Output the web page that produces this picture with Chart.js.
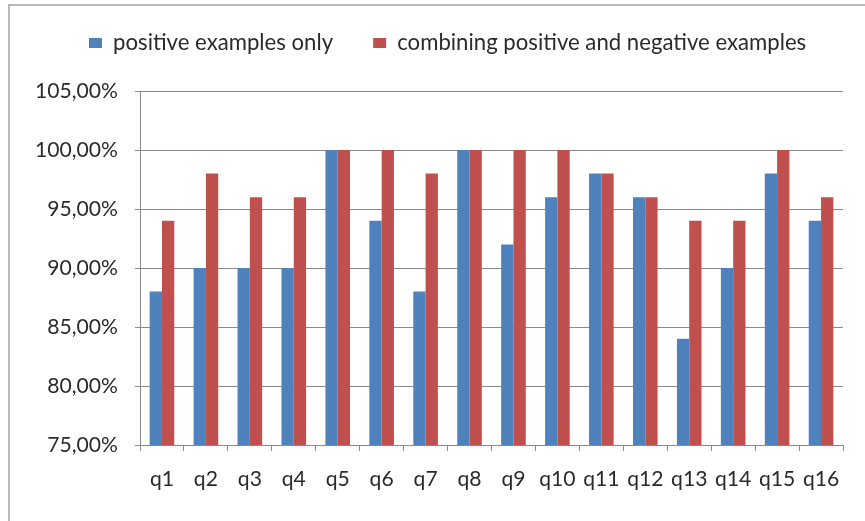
<!DOCTYPE html>
<html>
<head>
<meta charset="utf-8">
<script src="https://cdn.jsdelivr.net/npm/chart.js@4.4.1/dist/chart.umd.min.js"></script>
<style>
  html, body { margin: 0; padding: 0; background: #fff; overflow: hidden; }
  #frame { position: absolute; left: 8px; top: 4px; width: 880px; height: 540px;
           border-left: 2px solid #b8b8b8; border-top: 2px solid #b8b8b8; }
  #chart { position: absolute; left: 0; top: 0; }
</style>
</head>
<body>
<div id="frame"></div>
<canvas id="chart" width="865" height="521"></canvas>
<script>
const categories = ['q1', 'q2', 'q3', 'q4', 'q5', 'q6', 'q7', 'q8',
                    'q9', 'q10', 'q11', 'q12', 'q13', 'q14', 'q15', 'q16'];
const positiveOnly = [88, 90, 90, 90, 100, 94, 88, 100, 92, 96, 98, 96, 84, 90, 98, 94];
const combined = [94, 98, 96, 96, 100, 100, 98, 100, 100, 100, 98, 96, 94, 94, 100, 96];
const seriesNames = ['positive examples only', 'combining positive and negative examples'];
const yMin = 75, yMax = 105, yStep = 5;

const FONT = 'Lato';
const TEXT = '#2b2b2b';
const GRID = '#8a8a8a';

// pick font sizes so the text widths match the picture
const fitSize = (text, target) => {
  const c = document.createElement('canvas').getContext('2d');
  c.font = `100px ${FONT}`;
  return 100 * target / c.measureText(text).width;
};
const legendSize = fitSize(seriesNames.join(''), 629);
const tickSize = fitSize('105,00%', 83);

// layout targets (px)
const plotLeft = 140, plotRight = 843, plotTop = 91, plotBottom = 445;
const legendPad = 40, padTop = -8, legendStart = 89;
const spacer = plotTop - padTop - (legendSize + legendPad + 10);

// the legend sits a bit right of the canvas centre in the picture
const legendShift = {
  id: 'legendShift',
  afterLayout(chart) {
    const lg = chart.legend;
    const start = (lg.left + legendPad + lg.right - lg.lineWidths[0]) / 2;
    const dx = legendStart - start;
    lg.left += dx;
    lg.right += dx;
  }
};

const ctx = document.getElementById('chart').getContext('2d');
new Chart(ctx, {
  type: 'bar',
  data: {
    labels: categories,
    datasets: [
      { label: seriesNames[0], data: positiveOnly, backgroundColor: '#4F81BD', borderWidth: 0 },
      { label: seriesNames[1], data: combined, backgroundColor: '#C0504D', borderWidth: 0 }
    ]
  },
  plugins: [legendShift],
  options: {
    responsive: false,
    animation: false,
    devicePixelRatio: 1,
    layout: { padding: { left: 0, right: 865 - plotRight, top: padTop, bottom: 0 } },
    datasets: { bar: { categoryPercentage: 0.56, barPercentage: 1 } },
    plugins: {
      tooltip: { enabled: false },
      legend: {
        position: 'top',
        align: 'center',
        labels: {
          boxWidth: 13, boxHeight: 10, padding: legendPad,
          color: TEXT, font: { family: FONT, size: legendSize }
        }
      },
      title: {
        display: true, text: '', weight: 500,
        font: { size: 1, lineHeight: 1 },
        padding: { top: spacer - 1, bottom: 0 }
      }
    },
    scales: {
      x: {
        grid: { offset: true, drawOnChartArea: false, drawTicks: true, tickLength: 6, color: GRID },
        border: { color: GRID },
        ticks: { color: TEXT, font: { family: FONT, size: tickSize }, padding: 16,
                 autoSkip: false, maxRotation: 0 },
        afterFit: s => { s.height = 521 - plotBottom; }
      },
      y: {
        min: yMin, max: yMax,
        grid: { color: GRID, tickLength: 5 },
        border: { color: GRID },
        ticks: {
          stepSize: yStep, color: TEXT, padding: 17,
          font: { family: FONT, size: tickSize },
          callback: v => v.toFixed(2).replace('.', ',') + '%'
        },
        afterFit: s => { s.width = plotLeft; }
      }
    }
  }
});
</script>
</body>
</html>
